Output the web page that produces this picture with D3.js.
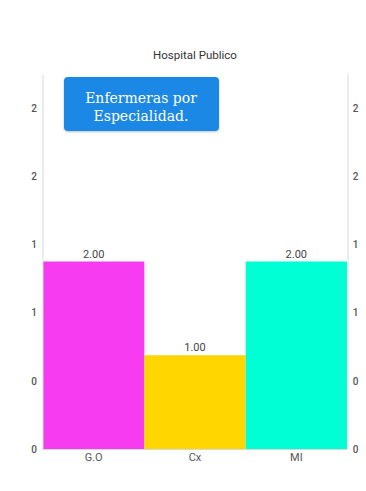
<!DOCTYPE html>
<html>
<head>
<meta charset="utf-8">
<script src="https://cdn.jsdelivr.net/npm/d3@7"></script>
<style>
  html, body { margin: 0; padding: 0; background: #ffffff; }
  svg { display: block; }
</style>
</head>
<body>
<svg id="chart" width="366" height="491"></svg>
<script>
// Nurses per specialty
const title = "Hospital Publico";
const categories = ["G.O", "Cx", "MI"];
const values = [2.00, 1.00, 2.00];
const barColors = ["#f63bf0", "#ffd600", "#00ffd4"];
// axis ticks (labels are printed as truncated integers)
const axisTicks = [0, 0.5, 1, 1.5, 2, 2.5];
const axisMax = 2.75;
const valueMax = 4;
const buttonLines = ["Enfermeras por", "Especialidad."];

const svg = d3.select("#chart");
const plot = { left: 43, right: 347, top: 74, bottom: 449 };

const x = d3.scaleBand().domain(categories).range([plot.left, plot.right]).padding(0);
const yBar = d3.scaleLinear().domain([0, valueMax]).range([plot.bottom, plot.top]);
const yAxis = d3.scaleLinear().domain([0, axisMax]).range([plot.bottom, plot.top]);

// title
svg.append("text")
  .attr("x", (plot.left + plot.right) / 2)
  .attr("y", 59)
  .attr("text-anchor", "middle")
  .attr("font-family", "Roboto, sans-serif")
  .attr("font-size", 11.5)
  .attr("fill", "#333")
  .text(title);

// bars
svg.append("g").selectAll("rect")
  .data(values)
  .join("rect")
  .attr("x", (d, i) => x(categories[i]))
  .attr("width", x.bandwidth())
  .attr("y", d => yBar(d))
  .attr("height", d => yBar(0) - yBar(d))
  .attr("fill", (d, i) => barColors[i]);

// value labels
svg.append("g").selectAll("text")
  .data(values)
  .join("text")
  .attr("x", (d, i) => x(categories[i]) + x.bandwidth() / 2)
  .attr("y", d => yBar(d) - 4)
  .attr("text-anchor", "middle")
  .attr("font-family", "Roboto, sans-serif")
  .attr("font-size", 11)
  .attr("fill", "#444")
  .text(d => d.toFixed(2));

// left and right axes
const fmt = d => String(Math.floor(d));
const leftAxis = d3.axisLeft(yAxis).tickValues(axisTicks).tickFormat(fmt).tickSize(0).tickPadding(6);
const rightAxis = d3.axisRight(yAxis).tickValues(axisTicks).tickFormat(fmt).tickSize(0).tickPadding(6);

function styleAxis(g) {
  g.select(".domain").attr("stroke", "#d9d9d9").attr("stroke-width", 1);
  g.selectAll("text")
    .attr("font-family", "Roboto, sans-serif")
    .attr("font-size", 10)
    .attr("font-weight", 500)
    .attr("fill", "#555");
}
svg.append("g").attr("transform", `translate(${plot.left - 0.5},0)`).call(leftAxis).call(styleAxis)
  .call(g => g.selectAll("text").attr("text-anchor", "middle").attr("x", -8.5));
svg.append("g").attr("transform", `translate(${plot.right + 0.5},0)`).call(rightAxis).call(styleAxis)
  .call(g => g.selectAll("text").attr("text-anchor", "middle").attr("x", 8));

// baseline
svg.append("line")
  .attr("x1", plot.left).attr("x2", plot.right)
  .attr("y1", plot.bottom + 0.5).attr("y2", plot.bottom + 0.5)
  .attr("stroke", "#d9d9d9");

// category labels
const xAxis = d3.axisBottom(x).tickSize(0).tickPadding(4);
svg.append("g").attr("transform", `translate(0,${plot.bottom})`).call(xAxis)
  .call(g => g.select(".domain").remove())
  .call(g => g.selectAll("text")
    .attr("font-family", "Roboto, sans-serif")
    .attr("font-size", 11)
    .attr("fill", "#555"));

// button
const defs = svg.append("defs");
const f = defs.append("filter").attr("id", "shadow").attr("x", "-10%").attr("y", "-20%").attr("width", "120%").attr("height", "150%");
f.append("feDropShadow").attr("dx", 0).attr("dy", 1).attr("stdDeviation", 1).attr("flood-color", "#000").attr("flood-opacity", 0.25);

const btn = svg.append("g");
btn.append("rect")
  .attr("x", 64).attr("y", 77).attr("width", 155).attr("height", 54)
  .attr("rx", 4)
  .attr("fill", "#1e88e5")
  .attr("filter", "url(#shadow)");
btn.selectAll("text")
  .data(buttonLines)
  .join("text")
  .attr("x", 141)
  .attr("y", (d, i) => 103 + i * 18)
  .attr("text-anchor", "middle")
  .attr("font-family", "'DejaVu Serif', serif")
  .attr("font-size", 14)
  .attr("fill", "#ffffff")
  .text(d => d);
</script>
</body>
</html>
